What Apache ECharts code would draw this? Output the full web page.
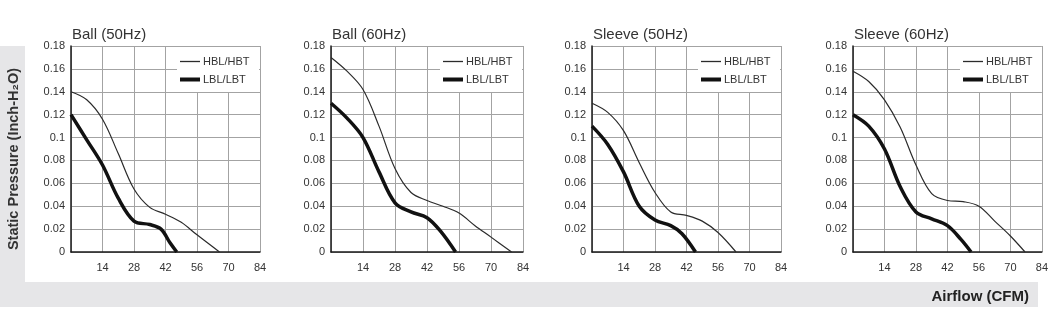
<!DOCTYPE html>
<html>
<head>
<meta charset="utf-8">
<script src="https://cdn.jsdelivr.net/npm/echarts@6/dist/echarts.min.js"></script>
<style>
html, body { margin: 0; padding: 0; background: #fff; }
#main { width: 1051px; height: 329px; }
</style>
</head>
<body>
<div id="main"></div>
<script>
var titles = ['Ball (50Hz)', 'Ball (60Hz)', 'Sleeve (50Hz)', 'Sleeve (60Hz)'];
var seriesNames = ['HBL/HBT', 'LBL/LBT'];
var xMax = 84, xStep = 14;
var yMax = 0.18, yStep = 0.02;

// [airflow CFM, static pressure inch-H2O]
var hblBall50 = [[0,0.14],[7,0.133],[14,0.116],[21,0.086],[28,0.055],[35,0.039],[42,0.033],[49,0.026],[56,0.015],[66,0]];
var lblBall50 = [[0,0.12],[7,0.098],[14,0.076],[21,0.047],[28,0.027],[35,0.024],[40,0.02],[44,0.008],[47,0]];
var hblBall60 = [[0,0.17],[7,0.158],[14,0.142],[21,0.11],[28,0.073],[35,0.052],[42,0.045],[49,0.04],[56,0.034],[63,0.023],[70,0.013],[79,0]];
var lblBall60 = [[0,0.13],[7,0.117],[14,0.1],[21,0.07],[28,0.043],[35,0.035],[42,0.03],[48,0.018],[54.5,0]];
var hblSleeve50 = [[0,0.13],[7,0.122],[14,0.106],[21,0.078],[28,0.052],[35,0.035],[42,0.032],[49,0.027],[56,0.017],[64,0]];
var lblSleeve50 = [[0,0.11],[7,0.094],[14,0.07],[21,0.04],[28,0.028],[35,0.023],[40,0.016],[46,0]];
var hblSleeve60 = [[0,0.158],[7,0.149],[14,0.133],[21,0.109],[28,0.076],[35,0.051],[42,0.045],[49,0.044],[56,0.04],[63,0.027],[70,0.014],[76.5,0]];
var lblSleeve60 = [[0,0.12],[7,0.11],[14,0.09],[21,0.057],[28,0.035],[35,0.029],[42,0.023],[48,0.011],[52.5,0]];

var hblData = [hblBall50, hblBall60, hblSleeve50, hblSleeve60];
var lblData = [lblBall50, lblBall60, lblSleeve50, lblSleeve60];

var font = 'Liberation Sans, Arial, sans-serif';
var gridLeft = [71, 331, 592, 853];
var gridWidth = [189, 192, 189, 190];
var gridTop = 46, gridHeight = 206;
var boxW = 83, boxH = 45;

var myChart = echarts.init(document.getElementById('main'));

var grids = [], xAxes = [], yAxes = [], series = [], legends = [], titleList = [];
var graphics = [
	{ type: 'rect', left: 0, top: 46, shape: { width: 25, height: 261 }, style: { fill: '#e6e6e8' }, z: -10 },
	{ type: 'rect', left: 0, top: 282, shape: { width: 1038, height: 25 }, style: { fill: '#e6e6e8' }, z: -10 },
	{
		type: 'text', x: 14, y: 159, rotation: Math.PI / 2,
		style: {
			text: 'Static Pressure (Inch-H\u2082O)', fill: '#333',
			font: 'bold 14.5px ' + font, align: 'center', verticalAlign: 'middle'
		}
	},
	{
		type: 'text', right: 22, top: 289,
		style: { text: 'Airflow (CFM)', fill: '#222', font: 'bold 15px ' + font }
	}
];

for (var i = 0; i < 4; i++) {
	var boxLeft = gridLeft[i] + gridWidth[i] - boxW;
	grids.push({ left: gridLeft[i], top: gridTop, width: gridWidth[i], height: gridHeight });
	titleList.push({
		text: titles[i],
		left: gridLeft[i] + 1,
		top: 27,
		padding: 0,
		textStyle: { fontFamily: font, fontSize: 15, fontWeight: 'normal', color: '#333' }
	});
	xAxes.push({
		type: 'value', gridIndex: i, min: 0, max: xMax, interval: xStep,
		axisLine: { show: true, onZero: false, lineStyle: { color: '#1a1a1a', width: 1.5 } },
		axisTick: { show: false },
		axisLabel: {
			margin: 10, color: '#333', fontFamily: font, fontSize: 11,
			formatter: function (v) { return v === 0 ? '' : String(v); }
		},
		splitLine: { show: true, lineStyle: { color: '#a3a3a3', width: 1 } }
	});
	yAxes.push({
		type: 'value', gridIndex: i, min: 0, max: yMax, interval: yStep,
		axisLine: { show: true, onZero: false, lineStyle: { color: '#1a1a1a', width: 1.5 } },
		axisTick: { show: false },
		axisLabel: {
			margin: 6, color: '#333', fontFamily: font, fontSize: 11,
			formatter: function (v) { return String(+v.toFixed(2)); }
		},
		splitLine: { show: true, lineStyle: { color: '#a3a3a3', width: 1 } }
	});
	series.push({
		name: seriesNames[0], type: 'line', xAxisIndex: i, yAxisIndex: i,
		data: hblData[i], smooth: 0.35, symbol: 'none',
		lineStyle: { color: '#2b2b2b', width: 1.2 }, itemStyle: { color: '#2b2b2b' }
	});
	series.push({
		name: seriesNames[1], type: 'line', xAxisIndex: i, yAxisIndex: i,
		data: lblData[i], smooth: 0.35, symbol: 'none',
		lineStyle: { color: '#111', width: 3.5 }, itemStyle: { color: '#111' }
	});
	// white legend box over the grid lines
	graphics.push({
		type: 'rect', left: boxLeft, top: gridTop + 1,
		shape: { width: boxW - 1, height: boxH }, style: { fill: '#fff' }, z: 3
	});
	legends.push({
		data: [seriesNames[0]], icon: 'rect', left: boxLeft + 3, top: gridTop + 10,
		padding: 0, itemWidth: 20, itemHeight: 1.3, selectedMode: false, z: 5,
		textStyle: { fontFamily: font, fontSize: 11, color: '#333', padding: [0, 0, 0, -2] }
	});
	legends.push({
		data: [seriesNames[1]], icon: 'rect', left: boxLeft + 3, top: gridTop + 28,
		padding: 0, itemWidth: 20, itemHeight: 4, selectedMode: false, z: 5,
		textStyle: { fontFamily: font, fontSize: 11, color: '#333', padding: [0, 0, 0, -2] }
	});
}

var option = {
	animation: false,
	backgroundColor: '#fff',
	title: titleList,
	grid: grids,
	xAxis: xAxes,
	yAxis: yAxes,
	legend: legends,
	series: series,
	graphic: graphics
};

myChart.setOption(option);
</script>
</body>
</html>
